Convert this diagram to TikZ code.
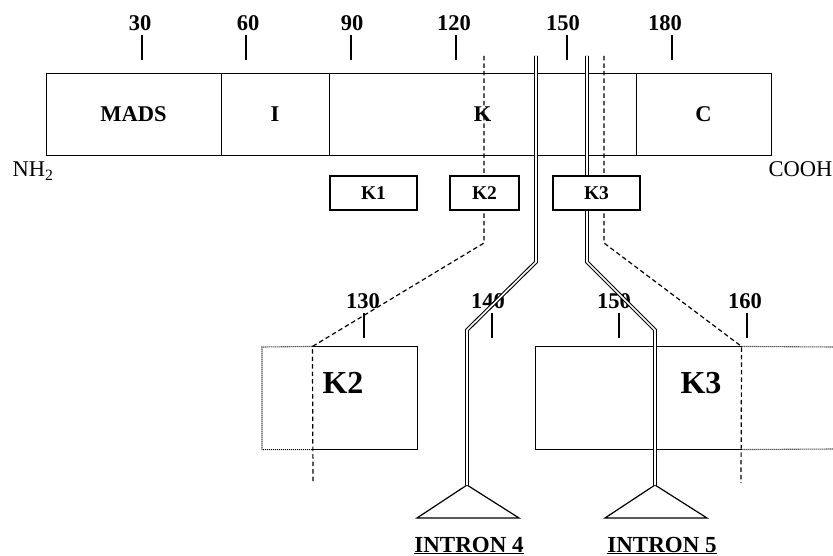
\documentclass[tikz,border=0pt]{standalone}
\usepackage{fontspec}
\setmainfont{Liberation Serif}
\begin{document}
\begin{tikzpicture}[x=1pt,y=-1pt, line width=1.1pt,
  lab/.style={font=\bfseries\fontsize{22.5}{22.5}\selectfont, inner sep=0pt},
  biglab/.style={font=\bfseries\fontsize{32}{32}\selectfont, inner sep=0pt},
  seg/.style={draw, line width=0.9pt, inner sep=0pt, minimum height=82pt, font=\bfseries\fontsize{22.5}{22.5}\selectfont},
  kbox/.style={draw, fill=white, inner sep=0pt, minimum height=34pt, font=\bfseries\fontsize{19.5}{19.5}\selectfont},
  bigbox/.style={inner sep=0pt, minimum height=102pt},
  tickline/.style={line width=1.9pt},
  dsh/.style={dash pattern=on 4.5pt off 3pt, line width=1.2pt},
  dbl/.style={double, double distance=1.6pt, line width=1.1pt},
  dotl/.style={dash pattern=on 1pt off 1pt, line width=1.1pt},
  tri/.style={draw, fill=white, line width=1.2pt}]
\useasboundingbox (0,0) rectangle (833,556);

% main bar
\node[seg, minimum width=175pt] (mads) at (133.5,114) {MADS};
\node[seg, minimum width=108pt] (iseg) at (275,114) {I};
\node[seg, minimum width=307pt] (kseg) at (482.5,114) {K};
\node[seg, minimum width=135pt] (cseg) at (703.5,114) {C};

\node[font=\fontsize{22.5}{22.5}\selectfont, inner sep=0pt, anchor=base west] (nh2) at (12,177) {NH\textsubscript{2}};
\node[font=\fontsize{22.5}{22.5}\selectfont, inner sep=0pt, anchor=base east] (cooh) at (833,177) {COOH};

% top ticks
\foreach \x/\lx/\t in {142/140/30, 246/248/60, 351/352/90, 456/454/120, 567/563/150, 672/665/180}{
  \node[lab] (top\t) at (\lx,23) {\t};
  \draw[tickline] (\x,35) -- (\x,60);
}

% lower ticks and labels
\foreach \x/\lx/\t in {364/363/130, 492/488/140, 619/614/150, 747/745/160}{
  \node[lab] (low\t) at (\lx,301) {\t};
  \draw[tickline] (\x,313) -- (\x,338);
}

% big boxes
\node[bigbox, minimum width=104pt] (bigk2) at (365,398) {};
\node[bigbox, minimum width=205pt] (bigk3) at (638.5,398) {};
\draw (bigk2.north west) -- (bigk2.north east) -- (bigk2.south east) -- (bigk2.south west);
\draw (bigk3.north east) -- (bigk3.north west) -- (bigk3.south west) -- (bigk3.south east);
\coordinate (dot2l) at (262,347);
\draw[dotl] (bigk2.north west) -- (dot2l) |- (bigk2.south west);
\coordinate (dot3t) at (833,347);
\coordinate (dot3b) at (833,449);
\draw[dotl] (bigk3.north east) -- (dot3t);
\draw[dotl] (bigk3.south east) -- (dot3b);
\node[biglab] (k2lab) at (343,383) {K2};
\node[biglab] (k3lab) at (701,383) {K3};

% dashed guide lines
\coordinate (d2a) at (484,56);
\coordinate (d2b) at (484,243);
\coordinate (d2c) at (313,483);
\coordinate (d3a) at (604,56);
\coordinate (d3b) at (604,243);
\coordinate (d3c) at (741,483);
\draw[dsh] (d2a) -- (d2b) -- (bigk2.north west) -- (d2c);
\draw[dsh] (d3a) -- (d3b) -- (bigk3.north east) -- (d3c);

% triangles
\coordinate (apex4) at (467,485);
\coordinate (apex5) at (655,485);
\draw[tri] (apex4) -- (519,518) -- (417,518) -- cycle;
\draw[tri] (apex5) -- (707,518) -- (605,518) -- cycle;

% intron double lines
\coordinate (i4a) at (536,56);
\coordinate (i4b) at (536,262);
\coordinate (i4c) at (467,330);
\coordinate (i5a) at (587,56);
\coordinate (i5b) at (587,262);
\coordinate (i5c) at (655,330);
\draw[dbl] (i4a) -- (i4b) -- (i4c) -- (apex4);
\draw[dbl] (i5a) -- (i5b) -- (i5c) -- (apex5);

% small K boxes
\node[kbox, minimum width=87pt] (k1) at (373.5,193) {K1};
\node[kbox, minimum width=69pt] (k2) at (484.5,193) {K2};
\node[kbox, minimum width=87pt] (k3) at (596.5,193) {K3};

% intron labels
\node[font=\bfseries\fontsize{23}{23}\selectfont, inner sep=0pt, anchor=base] (in4) at (469,552) {\underline{INTRON 4}};
\node[font=\bfseries\fontsize{23}{23}\selectfont, inner sep=0pt, anchor=base] (in5) at (662,552) {\underline{INTRON 5}};
\end{tikzpicture}
\end{document}
